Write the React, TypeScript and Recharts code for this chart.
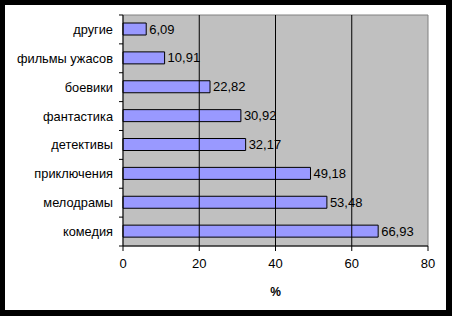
import React from 'react';
import { BarChart, Bar, XAxis, YAxis, CartesianGrid, ReferenceLine, ReferenceArea, LabelList } from 'recharts';

const genres = ['другие', 'фильмы ужасов', 'боевики', 'фантастика', 'детективы', 'приключения', 'мелодрамы', 'комедия'];
const shares = [6.09, 10.91, 22.82, 30.92, 32.17, 49.18, 53.48, 66.93];
const xTicks = [0, 20, 40, 60, 80];
const gridLines = [20, 40, 60];

const data = genres.map((name, i) => ({ name, value: shares[i] }));

const FONT = '"Liberation Sans", Arial, sans-serif';
const AXIS_X = 118;
const HALF_BAND = 14.45;

function GenreTick(props: any) {
  const { y, payload, index } = props;
  const last = index === genres.length - 1;
  return (
    <g>
      <line x1={AXIS_X - 4} x2={AXIS_X} y1={y - HALF_BAND} y2={y - HALF_BAND} stroke="#000" />
      {last && <line x1={AXIS_X - 4} x2={AXIS_X} y1={y + HALF_BAND} y2={y + HALF_BAND} stroke="#000" />}
      <text x={AXIS_X - 10} y={y} dy="0.35em" textAnchor="end" fontSize={12.8} fontFamily={FONT} fill="#000">
        {payload.value}
      </text>
    </g>
  );
}

export default function App() {
  return (
    <div
      style={{
        position: 'absolute',
        left: 0,
        top: 0,
        width: 452,
        height: 316,
        boxSizing: 'border-box',
        borderStyle: 'solid',
        borderColor: '#000',
        borderWidth: '5px 6px 6px 5px',
        background: '#fff',
      }}
    >
      <BarChart
        width={441}
        height={305}
        data={data}
        layout="vertical"
        margin={{ top: 10, right: 18, bottom: 4, left: 0 }}
      >
        <CartesianGrid fill="#C0C0C0" horizontal={false} vertical={false} />
        {gridLines.map((v) => (
          <ReferenceLine key={v} x={v} stroke="#000" strokeWidth={1} />
        ))}
        <ReferenceArea x1={0} x2={80} fill="none" stroke="#808080" strokeWidth={1} />
        <XAxis
          type="number"
          domain={[0, 80]}
          ticks={xTicks}
          height={60}
          stroke="#000"
          tickSize={5}
          tickMargin={8}
          tick={{ fill: '#000', fontSize: 13, fontFamily: FONT }}
          label={{ value: '%', position: 'insideBottom', offset: 10, fill: '#000', fontSize: 12, fontWeight: 'bold', fontFamily: FONT }}
        />
        <YAxis
          type="category"
          dataKey="name"
          width={118}
          stroke="#000"
          tickLine={false}
          tick={<GenreTick />}
          interval={0}
        />
        <Bar dataKey="value" fill="#9999FF" stroke="#000" strokeWidth={1} barSize={12} isAnimationActive={false}>
          <LabelList
            dataKey="value"
            position="right"
            offset={3}
            fill="#000"
            fontSize={13}
            fontFamily={FONT}
            formatter={(v: any) => String(v).replace('.', ',')}
          />
        </Bar>
      </BarChart>
    </div>
  );
}
